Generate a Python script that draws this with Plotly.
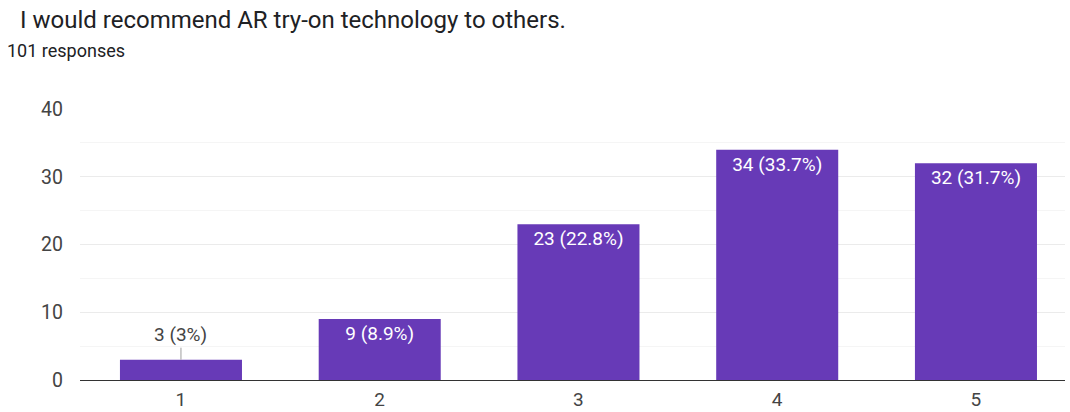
import plotly.graph_objects as go

categories = ["1", "2", "3", "4", "5"]
counts = [3, 9, 23, 34, 32]
percents = ["3%", "8.9%", "22.8%", "33.7%", "31.7%"]
title_text = "I would recommend AR try-on technology to others."
subtitle_text = "101 responses"
y_ticks = [0, 10, 20, 30, 40]

labels = [f"{c} ({p})" for c, p in zip(counts, percents)]
inside_labels = ["" if c < 5 else l for c, l in zip(counts, labels)]

W, H = 1070, 412
ml, mr, mt, mb = 80, 5, 109, 32
pw = W - ml - mr
ph = H - mt - mb

fig = go.Figure()
fig.add_trace(go.Bar(
    x=list(range(len(categories))), y=counts,
    marker=dict(color="#673AB7", line=dict(width=0)),
    width=0.614,
    text=inside_labels,
    textposition="inside",
    insidetextanchor="end",
    textangle=0,
    textfont=dict(color="white", size=19, family="Roboto"),
    cliponaxis=False,
    hoverinfo="skip",
))

# outside label with leader line for small bars
for i, (c, l) in enumerate(zip(counts, labels)):
    if c < 5:
        fig.add_annotation(
            x=i, y=c, xref="x", yref="y",
            text=l, showarrow=True, arrowhead=0, arrowwidth=1,
            arrowcolor="#9e9e9e", ax=0, ay=-25,
            font=dict(size=19, color="#444444", family="Roboto"),
        )

fig.add_annotation(
    x=(18 - ml) / pw, xref="paper", xanchor="left",
    y=1 + (mt - 20) / ph, yref="paper", yanchor="middle",
    text=title_text, showarrow=False,
    font=dict(size=24, color="#202124", family="Roboto"),
)
fig.add_annotation(
    x=(5 - ml) / pw, xref="paper", xanchor="left",
    y=1 + (mt - 50) / ph, yref="paper", yanchor="middle",
    text=subtitle_text, showarrow=False,
    font=dict(size=18, color="#202124", family="Roboto"),
)

fig.update_layout(
    width=W, height=H,
    margin=dict(l=ml, r=mr, t=mt, b=mb, autoexpand=False),
    paper_bgcolor="white", plot_bgcolor="white",
    font=dict(family="Roboto", color="#444444"),
    showlegend=False,
)
fig.update_xaxes(
    range=[-0.508, 4.448],
    tickvals=list(range(len(categories))),
    ticktext=categories,
    showgrid=False,
    showline=False,
    zeroline=False,
    ticks="",
    automargin=False,
    tickfont=dict(size=19, color="#444444"),
    ticklabelstandoff=6,
    fixedrange=True,
)
fig.update_yaxes(
    range=[0, 40],
    tickvals=y_ticks,
    showgrid=True, gridcolor="#ebebeb", gridwidth=1,
    minor=dict(dtick=5, showgrid=True, gridcolor="#f5f5f5", gridwidth=1),
    zeroline=True, zerolinecolor="#333333", zerolinewidth=1,
    automargin=False,
    tickfont=dict(size=19.5, color="#444444"),
    ticklabelstandoff=16,
    fixedrange=True,
)

fig.write_html(
    "out.html",
    config={"displayModeBar": False},
    post_script="document.body.style.margin='0';document.body.style.overflow='hidden';",
)
